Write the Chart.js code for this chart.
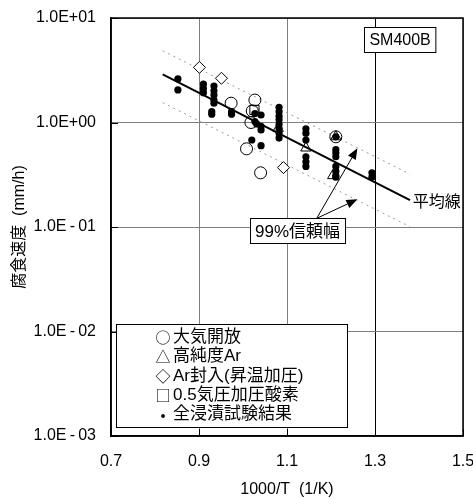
<!DOCTYPE html>
<html><head><meta charset="utf-8">
<script src="https://cdn.jsdelivr.net/npm/chart.js@4.4.1/dist/chart.umd.min.js"></script>
<style>html,body{margin:0;padding:0;background:#fff;}#wrap{width:473px;height:499px;position:relative;}</style>
</head><body><div id="wrap"><canvas id="c" width="473" height="499"></canvas></div>
<script>
// ---- data ----
const xTicks = [0.7, 0.9, 1.1, 1.3, 1.5];
const yTicks = [0.001, 0.01, 0.1, 1, 10];
const yTickLabels = ['1.0E\u2009-\u200903', '1.0E\u2009-\u200902', '1.0E\u2009-\u200901', '1.0E+00', '1.0E+01'];

// 全浸漬試験結果 (filled dots)
const dotX = [0.852,0.852, 0.910,0.910,0.910, 0.934,0.934,0.934,0.934,0.934, 0.929,0.929, 0.974,0.974,
  1.027,1.041,1.027,1.031,1.041,1.041,1.020,1.041,
  1.082,1.082,1.082,1.082,1.082,1.082,1.082,1.082,
  1.143,1.143,1.143,1.143,1.143,1.143,
  1.211,1.211,1.211,1.211,1.211,1.211,1.211,1.211,
  1.293,1.293];
const dotY = [2.61,2.05, 2.33,2.12,1.93, 2.23,2.01,1.83,1.64,1.53, 1.27,1.20, 1.27,1.20,
  1.22,1.18,1.02,0.97,0.92,0.85,0.68,0.60,
  1.40,1.27,1.15,1.06,0.96,0.88,0.79,0.71,
  0.87,0.79,0.68,0.47,0.42,0.38,
  0.73,0.55,0.51,0.47,0.38,0.34,0.31,0.30,
  0.33,0.30];
// 大気開放 (open circles)
const circleX = [0.973, 1.027, 1.021, 1.018, 1.008, 1.040, 1.211];
const circleY = [1.53, 1.64, 1.29, 1.00, 0.56, 0.33, 0.73];
// 高純度Ar (triangles)
const triX = [1.080, 1.143, 1.211, 1.204];
const triY = [0.88, 0.57, 0.73, 0.31];
// Ar封入(昇温加圧) (diamonds)
const diaX = [0.901, 0.951, 1.092];
const diaY = [3.37, 2.65, 0.37];
// 0.5気圧加圧酸素 (squares)
const sqX = [1.026];
const sqY = [1.32];
// 平均線 and 99% band
const meanX = [0.8175, 1.3795];
const meanY = [2.89, 0.181];
const upperX = [0.8175, 1.3795];
const upperY = [4.86, 0.321];
const lowerX = [0.8175, 1.3795];
const lowerY = [1.55, 0.1007];

// annotation anchors (data units)
const seriesLabel = 'SM400B';
const seriesLabelPos = [1.357, 6.22];
const meanLabel = '平均線';
const meanLabelPos = [1.386, 0.173];
const bandLabel = '99%信頼幅';
const bandLabelPos = [1.124, 0.0916];
const arrowStart = [1.1675, 0.121];
const arrowEndsX = [1.260, 1.260];
const arrowEndsY = [0.566, 0.184];

const legendSymbols = ['○', '△', '◇', '□', '•'];
const legendLabels = ['大気開放', '高純度Ar', 'Ar封入(昇温加圧)', '0.5気圧加圧酸素', '全浸漬試験結果'];

const xTitle = '1000/T  (1/K)';
const yTitle = '腐食速度  (mm/h)';

// ---- chart ----
const LATIN = "'Liberation Sans', Arial, 'Noto Sans CJK JP', sans-serif";
const CJK = "'Noto Sans CJK JP', sans-serif";
const pts = (xs, ys) => xs.map((x, i) => ({x: x, y: ys[i]}));

const overlay = {
  id: 'overlay',
  afterDatasetsDraw(chart) {
    const ctx = chart.ctx, a = chart.chartArea;
    const xs = chart.scales.x, ys = chart.scales.y;
    const px = v => xs.getPixelForValue(v), py = v => ys.getPixelForValue(v);
    ctx.save();
    // inward tick marks
    ctx.strokeStyle = '#000'; ctx.lineWidth = 1;
    xTicks.forEach(v => { const X = Math.round(px(v)) + 0.5; ctx.beginPath(); ctx.moveTo(X, a.bottom); ctx.lineTo(X, a.bottom - 7); ctx.stroke(); });
    yTicks.forEach(v => { const Y = Math.round(py(v)) + 0.5; ctx.beginPath(); ctx.moveTo(a.left, Y); ctx.lineTo(a.left + 7, Y); ctx.stroke(); });

    // arrows
    const sx = px(arrowStart[0]), sy = py(arrowStart[1]);
    arrowEndsX.forEach((ex0, i) => {
      const ex = px(ex0), ey = py(arrowEndsY[i]);
      const ang = Math.atan2(ey - sy, ex - sx);
      const L = 11, W = 4.5;
      const bx = ex - L * Math.cos(ang), by = ey - L * Math.sin(ang);
      ctx.strokeStyle = '#000'; ctx.lineWidth = 1;
      ctx.beginPath(); ctx.moveTo(sx, sy); ctx.lineTo(bx, by); ctx.stroke();
      ctx.fillStyle = '#000';
      ctx.beginPath();
      ctx.moveTo(ex, ey);
      ctx.lineTo(bx + W * Math.sin(ang), by - W * Math.cos(ang));
      ctx.lineTo(bx - W * Math.sin(ang), by + W * Math.cos(ang));
      ctx.closePath(); ctx.fill();
    });

    // boxed labels
    const boxLabel = (text, cx, cy, font, padX, h) => {
      ctx.font = font;
      const w = ctx.measureText(text).width + 2 * padX;
      const x0 = Math.round(cx - w / 2) + 0.5, y0 = Math.round(cy - h / 2) + 0.5;
      ctx.fillStyle = '#fff'; ctx.fillRect(x0, y0, w, h);
      ctx.strokeStyle = '#000'; ctx.lineWidth = 1; ctx.strokeRect(x0, y0, w, h);
      ctx.fillStyle = '#000'; ctx.textAlign = 'center'; ctx.textBaseline = 'middle';
      ctx.fillText(text, cx, cy + 1);
    };
    boxLabel(seriesLabel, px(seriesLabelPos[0]), py(seriesLabelPos[1]), '16px ' + LATIN, 5, 25);
    boxLabel(bandLabel, px(bandLabelPos[0]), py(bandLabelPos[1]), '17px ' + LATIN, 5, 25);

    // mean label
    ctx.font = '16px ' + LATIN; ctx.fillStyle = '#000';
    ctx.textAlign = 'left'; ctx.textBaseline = 'middle';
    ctx.fillText(meanLabel, px(meanLabelPos[0]), py(meanLabelPos[1]));

    // legend box
    const lx = a.left + 5, ly = 324, lw = 231, lh = 103;
    ctx.fillStyle = '#fff'; ctx.fillRect(lx, ly, lw, lh);
    ctx.strokeStyle = '#000'; ctx.lineWidth = 1; ctx.strokeRect(lx + 0.5, ly + 0.5, lw, lh);
    legendLabels.forEach((t, i) => {
      const yc = ly + 13.5 + i * 19.25;
      ctx.fillStyle = '#000'; ctx.textBaseline = 'middle';
      ctx.font = '15px ' + CJK; ctx.textAlign = 'center';
      ctx.fillText(legendSymbols[i], a.left + 52, yc);
      ctx.font = '17px ' + LATIN; ctx.textAlign = 'left';
      ctx.fillText(t, a.left + 62, yc);
    });

    // plot frame
    ctx.strokeStyle = '#000'; ctx.lineWidth = 1.5;
    ctx.strokeRect(a.left, a.top, a.right - a.left, a.bottom - a.top);
    ctx.restore();
  }
};

new Chart(document.getElementById('c'), {
  type: 'scatter',
  data: {
    datasets: [
      {data: pts(circleX, circleY), pointStyle: 'circle', pointRadius: 6, backgroundColor: 'rgba(0,0,0,0)', borderColor: '#000', borderWidth: 1},
      {data: pts(triX, triY), pointStyle: 'triangle', pointRadius: 6, backgroundColor: 'rgba(0,0,0,0)', borderColor: '#000', borderWidth: 1},
      {data: pts(diaX, diaY), pointStyle: 'rectRot', pointRadius: 6, backgroundColor: '#fff', borderColor: '#000', borderWidth: 1},
      {data: pts(sqX, sqY), pointStyle: 'rect', pointRadius: 6.5, backgroundColor: 'rgba(0,0,0,0)', borderColor: '#000', borderWidth: 1},
      {data: pts(dotX, dotY), pointStyle: 'circle', pointRadius: 3.6, backgroundColor: '#000', borderColor: '#000', borderWidth: 0},
      {data: pts(meanX, meanY), showLine: true, pointRadius: 0, borderColor: '#000', borderWidth: 2},
      {data: pts(upperX, upperY), showLine: true, pointRadius: 0, borderColor: '#999', borderWidth: 1, borderDash: [2, 4]},
      {data: pts(lowerX, lowerY), showLine: true, pointRadius: 0, borderColor: '#999', borderWidth: 1, borderDash: [2, 4]}
    ]
  },
  options: {
    responsive: false,
    devicePixelRatio: 1,
    animation: false,
    layout: {padding: {top: 18, right: 10, left: 0, bottom: 0}},
    plugins: {legend: {display: false}, tooltip: {enabled: false}},
    scales: {
      x: {
        type: 'linear', min: 0.7, max: 1.5,
        afterBuildTicks: s => { s.ticks = xTicks.map(v => ({value: v})); },
        afterFit: s => { s.height = 63; s.paddingLeft = 0; s.paddingRight = 0; },
        ticks: {callback: v => v.toFixed(1), font: {size: 16, family: LATIN}, color: '#000', padding: 16, maxRotation: 0},
        grid: {color: c => (c.tick && Math.abs(c.tick.value - 1.3) < 1e-6) ? '#000' : '#808080', lineWidth: 1, drawTicks: false},
        border: {display: true, color: '#000', width: 1.5},
        title: {display: true, text: xTitle, font: {size: 16, family: LATIN}, color: '#000', padding: {top: 0, bottom: 0}}
      },
      y: {
        type: 'logarithmic', min: 0.001, max: 10,
        afterBuildTicks: s => { s.ticks = yTicks.map(v => ({value: v})); },
        afterFit: s => { s.width = 111; s.paddingTop = 0; s.paddingBottom = 0; },
        ticks: {callback: (v, i) => yTickLabels[i], font: {size: 16, family: LATIN}, color: '#000', padding: 15},
        grid: {color: '#808080', lineWidth: 1, drawTicks: false},
        border: {display: true, color: '#000', width: 1.5},
        title: {display: true, text: yTitle, font: {size: 16, family: LATIN}, color: '#000', padding: {top: 10, bottom: 0}}
      }
    }
  },
  plugins: [overlay]
});
</script>
</body></html>
